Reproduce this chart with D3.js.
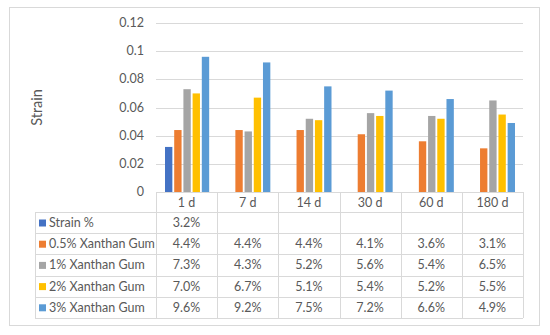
<!DOCTYPE html>
<meta charset="utf-8">
<title>Strain</title>
<script src="https://d3js.org/d3.v7.min.js"></script>
<style>
  body { margin: 0; background: #fff; }
  text { font-family: Lato, "Open Sans", sans-serif; fill: #595959; }
</style>
<div id="chart"></div>
<script>
var categories = ["1 d", "7 d", "14 d", "30 d", "60 d", "180 d"];
var seriesNames = ["Strain %", "0.5% Xanthan Gum", "1% Xanthan Gum", "2% Xanthan Gum", "3% Xanthan Gum"];
var strain = [0.032, null, null, null, null, null];
var xg05 = [0.044, 0.044, 0.044, 0.041, 0.036, 0.031];
var xg1 = [0.073, 0.043, 0.052, 0.056, 0.054, 0.065];
var xg2 = [0.070, 0.067, 0.051, 0.054, 0.052, 0.055];
var xg3 = [0.096, 0.092, 0.075, 0.072, 0.066, 0.049];
var yTicks = [0, 0.02, 0.04, 0.06, 0.08, 0.1, 0.12];
var colors = ["#4472C4", "#ED7D31", "#A5A5A5", "#FFC000", "#5B9BD5"];

var series = [strain, xg05, xg1, xg2, xg3];

var W = 550, H = 335;
var plotL = 156, plotR = 523, plotT = 23, plotB = 192;
var tableL = 35, rowH = 21.2, headH = 20;
var fs = "12.5px";

var svg = d3.select("#chart").append("svg")
  .attr("width", W).attr("height", H);

// outer frame
svg.append("rect")
  .attr("x", 9.5).attr("y", 7.5).attr("width", 530).attr("height", 318)
  .attr("fill", "#fff").attr("stroke", "#d9d9d9");

var x = d3.scaleBand().domain(categories).range([plotL, plotR]);
var xs = d3.scaleBand().domain(d3.range(series.length))
  .range([9, x.bandwidth() - 8]).paddingInner(0.2);
var y = d3.scaleLinear().domain([0, 0.12]).range([plotB, plotT]);

// gridlines
svg.selectAll("line.grid").data(yTicks.slice(1)).enter().append("line")
  .attr("x1", plotL).attr("x2", plotR)
  .attr("y1", function(d) { return Math.round(y(d)) + 0.5; })
  .attr("y2", function(d) { return Math.round(y(d)) + 0.5; })
  .attr("stroke", "#d9d9d9");

// y tick labels
svg.selectAll("text.ytick").data(yTicks).enter().append("text")
  .attr("x", 144).attr("y", function(d) { return y(d) + 4; })
  .attr("text-anchor", "end").style("font-size", fs)
  .text(function(d) { return d; });

svg.append("text")
  .attr("transform", "translate(42," + ((plotT + plotB) / 2) + ") rotate(-90)")
  .attr("text-anchor", "middle").style("font-size", "14.5px")
  .text("Strain");

// bars
series.forEach(function(vals, si) {
  svg.append("g").selectAll("rect")
    .data(categories.map(function(c, i) { return { c: c, v: vals[i] }; })
      .filter(function(d) { return d.v != null; }))
    .enter().append("rect")
    .attr("x", function(d) { return x(d.c) + xs(si); })
    .attr("width", xs.bandwidth())
    .attr("y", function(d) { return y(d.v); })
    .attr("height", function(d) { return plotB - y(d.v); })
    .attr("fill", colors[si]);
});

// data table
var tableB = plotB + headH + rowH * series.length;
var g = svg.append("g").attr("stroke", "#d9d9d9").attr("fill", "none");
g.append("line").attr("x1", plotL).attr("x2", plotR).attr("y1", plotB + 0.5).attr("y2", plotB + 0.5);
d3.range(series.length + 1).forEach(function(r) {
  var yy = Math.round(plotB + headH + r * rowH) + 0.5;
  g.append("line").attr("x1", tableL).attr("x2", plotR).attr("y1", yy).attr("y2", yy);
});
categories.forEach(function(c) {
  var xx = Math.round(x(c)) + 0.5;
  g.append("line").attr("x1", xx).attr("x2", xx).attr("y1", plotB).attr("y2", tableB);
});
g.append("line").attr("x1", plotR + 0.5).attr("x2", plotR + 0.5).attr("y1", plotB).attr("y2", tableB);
g.append("line").attr("x1", tableL + 0.5).attr("x2", tableL + 0.5).attr("y1", plotB + headH).attr("y2", tableB);

// header
svg.selectAll("text.cat").data(categories).enter().append("text")
  .attr("x", function(d) { return x(d) + x.bandwidth() / 2; })
  .attr("y", plotB + 15).attr("text-anchor", "middle").style("font-size", fs)
  .text(function(d) { return d; });

// rows
series.forEach(function(vals, si) {
  var ry = plotB + headH + si * rowH;
  svg.append("rect").attr("x", 39).attr("y", ry + 7.5).attr("width", 7).attr("height", 7)
    .attr("fill", colors[si]);
  svg.append("text").attr("x", 49).attr("y", ry + 15).style("font-size", fs)
    .text(seriesNames[si]);
  vals.forEach(function(v, i) {
    if (v == null) return;
    svg.append("text")
      .attr("x", x(categories[i]) + x.bandwidth() / 2).attr("y", ry + 15)
      .attr("text-anchor", "middle").style("font-size", fs)
      .text(d3.format(".1%")(v));
  });
});
</script>
